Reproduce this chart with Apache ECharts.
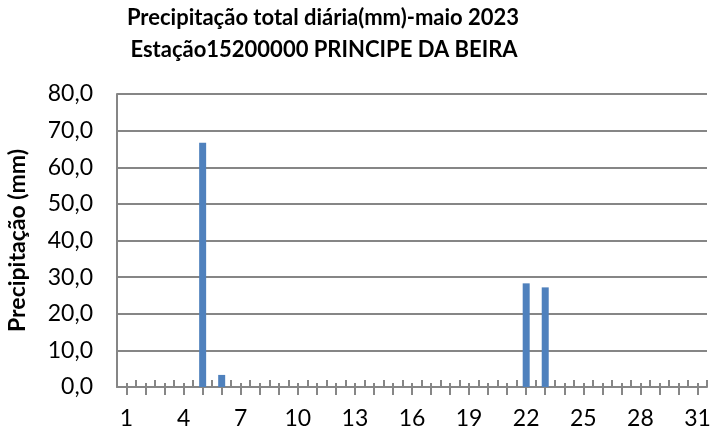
<!DOCTYPE html>
<html>
<head>
<meta charset="utf-8">
<script src="https://cdn.jsdelivr.net/npm/echarts@6/dist/echarts.min.js"></script>
<style>
  html, body { margin: 0; padding: 0; background: #fff; }
  #chart { width: 712px; height: 429px; }
</style>
</head>
<body>
<div id="chart"></div>
<script>
// dias de maio 2023
const days = []
for (let d = 1; d <= 31; d++) days.push(String(d))

// precipitação diária (mm)
const rain = [
  0, 0, 0, 0, 66.7, 3.3, 0, 0, 0, 0,
  0, 0, 0, 0, 0, 0, 0, 0, 0, 0,
  0, 28.3, 27.2, 0, 0, 0, 0, 0, 0, 0,
  0
]

const titleLines = ['Precipitação total diária(mm)-maio 2023', 'Estação15200000 PRINCIPE DA BEIRA']
const yName = 'Precipitação (mm)'

const font = 'Lato, "Open Sans", sans-serif'
const axisGray = '#868686'

const chart = echarts.init(document.getElementById('chart'))

let option = {
  animation: false,
  graphic: [
    {
      type: 'text', x: 323, y: 7,
      style: { text: titleLines[0], font: 'bold 22px ' + font, fill: '#000', align: 'center' }
    },
    {
      type: 'text', x: 324, y: 39,
      style: { text: titleLines[1], font: 'bold 22px ' + font, fill: '#000', align: 'center' }
    }
  ],
  grid: { left: 117, right: 5, top: 94, bottom: 42, outerBoundsMode: 'none' },
  xAxis: [
    {
      type: 'category',
      data: days,
      axisLine: { lineStyle: { color: axisGray, width: 2 } },
      axisTick: { show: true, inside: true, length: 7, interval: 0, lineStyle: { color: axisGray, width: 2 } },
      axisLabel: { interval: 2, color: '#000', fontSize: 23, fontFamily: font, margin: 20 },
      splitLine: { show: false }
    },
    {
      type: 'category',
      data: days,
      position: 'bottom',
      axisLine: { show: false },
      axisTick: { show: true, alignWithLabel: true, length: 8, interval: 0, lineStyle: { color: axisGray, width: 2 } },
      axisLabel: { show: false }
    },
    {
      type: 'category',
      data: days,
      position: 'bottom',
      axisLine: { show: false },
      axisTick: { show: true, inside: true, alignWithLabel: true, length: 4, interval: 0, lineStyle: { color: axisGray, width: 2 } },
      axisLabel: { show: false }
    }
  ],
  yAxis: {
    type: 'value',
    min: 0,
    max: 80,
    interval: 10,
    name: yName,
    nameLocation: 'middle',
    nameRotate: 90,
    nameGap: 88,
    nameTextStyle: { color: '#000', fontSize: 23, fontWeight: 'bold', fontFamily: font },
    axisLine: { show: true, lineStyle: { color: axisGray, width: 2 } },
    axisTick: { show: false },
    axisLabel: {
      color: '#000', fontSize: 23, fontFamily: font, margin: 24,
      formatter: v => v.toFixed(1).replace('.', ',')
    },
    splitLine: { lineStyle: { color: axisGray, width: 2 } }
  },
  series: [
    {
      type: 'bar',
      data: rain,
      barWidth: 7,
      itemStyle: { color: '#4F81BD' }
    }
  ]
}
chart.setOption(option)
</script>
</body>
</html>
